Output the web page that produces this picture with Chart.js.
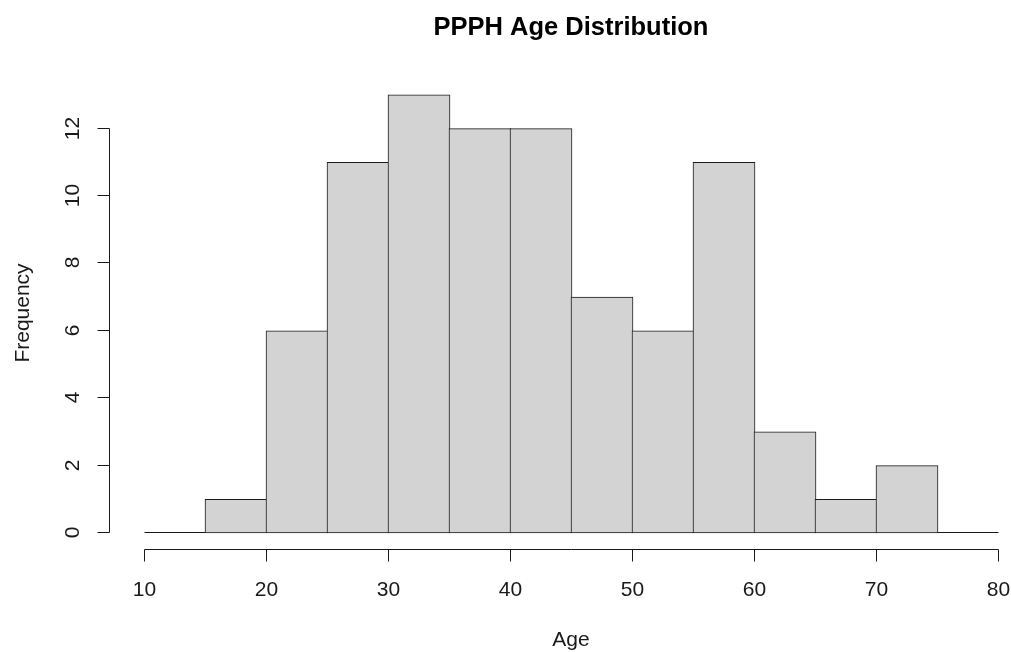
<!DOCTYPE html>
<html>
<head>
<meta charset="utf-8">
<script src="https://cdn.jsdelivr.net/npm/chart.js@4"></script>
<style>
html,body{margin:0;padding:0;background:#fff;}
#wrap{width:1011px;height:652px;}
</style>
</head>
<body>
<div id="wrap"><canvas id="c" width="1011" height="652"></canvas></div>
<script>
// Data
const binStarts = [10, 15, 20, 25, 30, 35, 40, 45, 50, 55, 60, 65, 70, 75];
const binWidth = 5;
const counts = [0, 1, 6, 11, 13, 12, 12, 7, 6, 11, 3, 1, 2, 0];
const xTicks = [10, 20, 30, 40, 50, 60, 70, 80];
const yTicks = [0, 2, 4, 6, 8, 10, 12];
const titleText = "PPPH Age Distribution";
const xLabel = "Age";
const yLabel = "Frequency";

const FONT = "'Liberation Sans', Arial, Helvetica, sans-serif";
const INK = "#1a1a1a";

const barData = binStarts.map((s, i) => ({ x: s + binWidth / 2, y: counts[i] }));

const rAxes = {
  id: 'rAxes',
  beforeDatasetsDraw(chart) {
    const ctx = chart.ctx, xs = chart.scales.x, ys = chart.scales.y;
    ctx.save();
    ctx.strokeStyle = INK;
    ctx.lineWidth = 1;
    // baseline for empty bins
    const y0 = ys.getPixelForValue(0) - 0.5;
    binStarts.forEach((s, i) => {
      if (counts[i] === 0) {
        ctx.beginPath();
        ctx.moveTo(xs.getPixelForValue(s), y0);
        ctx.lineTo(xs.getPixelForValue(s + binWidth), y0);
        ctx.stroke();
      }
    });
    ctx.restore();
  },
  afterDraw(chart) {
    const ctx = chart.ctx, xs = chart.scales.x, ys = chart.scales.y;
    ctx.save();
    ctx.strokeStyle = INK;
    ctx.fillStyle = INK;
    ctx.lineWidth = 1;
    // y axis
    const ax = 109.5;
    ctx.beginPath();
    ctx.moveTo(ax, Math.round(ys.getPixelForValue(yTicks[0])) - 0.5);
    ctx.lineTo(ax, Math.round(ys.getPixelForValue(yTicks[yTicks.length - 1])) - 0.5);
    ctx.stroke();
    ctx.font = "21px " + FONT;
    ctx.textAlign = 'center';
    ctx.textBaseline = 'middle';
    yTicks.forEach(t => {
      const py = Math.round(ys.getPixelForValue(t)) - 0.5;
      ctx.beginPath();
      ctx.moveTo(ax, py);
      ctx.lineTo(ax - 12, py);
      ctx.stroke();
      ctx.save();
      ctx.translate(72, py);
      ctx.rotate(-Math.PI / 2);
      ctx.fillText(String(t), 0, 1);
      ctx.restore();
    });
    // x axis
    const ay = 549.5;
    ctx.beginPath();
    ctx.moveTo(xs.getPixelForValue(xTicks[0]), ay);
    ctx.lineTo(xs.getPixelForValue(xTicks[xTicks.length - 1]), ay);
    ctx.stroke();
    xTicks.forEach(t => {
      const px = xs.getPixelForValue(t);
      ctx.beginPath();
      ctx.moveTo(px, ay);
      ctx.lineTo(px, ay + 12);
      ctx.stroke();
      ctx.fillText(String(t), px, 590);
    });
    // axis titles
    ctx.fillText(xLabel, 571, 640);
    ctx.save();
    ctx.translate(23, 313);
    ctx.rotate(-Math.PI / 2);
    ctx.fillText(yLabel, 0, 0);
    ctx.restore();
    // title
    ctx.font = "bold 25.5px " + FONT;
    ctx.fillStyle = "#000";
    ctx.fillText(titleText, 571, 28);
    ctx.restore();
  }
};

new Chart(document.getElementById('c'), {
  type: 'bar',
  data: {
    datasets: [{
      data: barData,
      backgroundColor: '#d3d3d3',
      borderColor: INK,
      borderWidth: 1,
      borderSkipped: false,
      barThickness: 62,
      clip: false
    }]
  },
  options: {
    responsive: false,
    animation: false,
    events: [],
    layout: { padding: { left: 144.5, right: 12.5, top: 94.9, bottom: 119 } },
    scales: {
      x: { type: 'linear', min: 10, max: 80, display: false, offset: false },
      y: { type: 'linear', min: 0, max: 13, display: false }
    },
    plugins: { legend: { display: false }, tooltip: { enabled: false }, title: { display: false } }
  },
  plugins: [rAxes]
});
</script>
</body>
</html>
